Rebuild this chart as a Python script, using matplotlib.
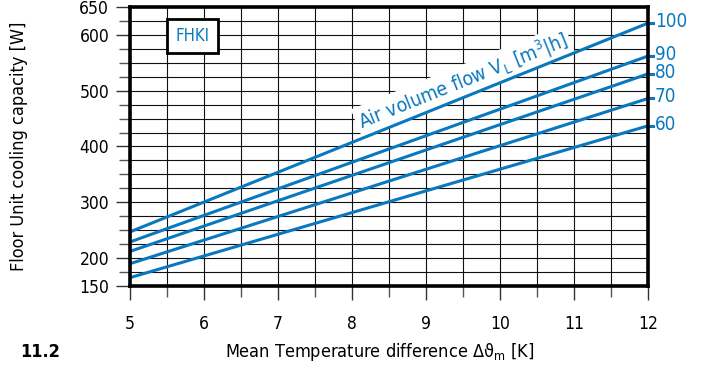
import numpy as np
import matplotlib.pyplot as plt
from matplotlib.ticker import MultipleLocator

plt.rcParams['font.family'] = ['DejaVu Sans']
plt.rcParams['font.stretch'] = 'condensed'

# data
dt = [5, 12]
flows = [60, 70, 80, 90, 100]
capacity = {
    60: [165, 437],
    70: [190, 486],
    80: [212, 530],
    90: [229, 562],
    100: [247, 621],
}
yticks = [150, 200, 300, 400, 500, 600, 650]
xticks = [5, 6, 7, 8, 9, 10, 11, 12]

blue = '#0a78be'

fig = plt.figure(figsize=(7.04, 3.65), dpi=100)
ax = fig.add_axes([0.1847, 0.2164, 0.7358, 0.7646])

for f in flows:
    ax.plot(dt, capacity[f], color=blue, lw=2.2, solid_capstyle='butt', zorder=3, clip_on=False)
    ax.plot([dt[1], dt[1] + 0.07], [capacity[f][1], capacity[f][1]], color=blue, lw=2.2, clip_on=False, zorder=3)
    ax.text(dt[1] + 0.09, capacity[f][1] + 3, str(f), color=blue, fontsize=13.5,
            va='center', ha='left', clip_on=False)

ax.set_xlim(5, 12)
ax.set_ylim(150, 650)
ax.set_xticks(xticks)
ax.set_yticks(yticks)
ax.xaxis.set_minor_locator(MultipleLocator(0.5))
ax.yaxis.set_minor_locator(MultipleLocator(25))
ax.grid(which='both', color='#111111', lw=0.8, zorder=1)
ax.tick_params(axis='both', which='major', labelsize=12.5, length=10, width=1.0, color='#333333')
ax.tick_params(axis='both', which='minor', length=8, width=1.0, color='#555555')
ax.tick_params(axis='x', pad=11)
ax.tick_params(axis='y', pad=5)
for s in ax.spines.values():
    s.set_linewidth(2.6)
    s.set_zorder(4)

# annotation along the 100 line
ax.text(9.5, 517, 'Air volume flow V$_\\mathregular{L}$ [m$^\\mathregular{3}$|h]', color=blue, fontsize=14,
        rotation=21.9, rotation_mode='anchor', ha='center', va='center',
        bbox=dict(facecolor='white', edgecolor='none', pad=2), zorder=2)

ax.text(5.84, 598, 'FHKI', color=blue, fontsize=12, ha='center', va='center',
        bbox=dict(facecolor='white', edgecolor='black', lw=2, pad=6), zorder=5)

ax.set_ylabel('Floor Unit cooling capacity [W]', fontsize=13, labelpad=37)
fig.text(0.539, 0.022, 'Mean Temperature difference Δϑ$_\\mathregular{m}$ [K]', fontsize=13, ha='center')
fig.text(0.028, 0.022, '11.2', fontsize=13, fontweight='bold')

fig.savefig('out.png', dpi=100)
